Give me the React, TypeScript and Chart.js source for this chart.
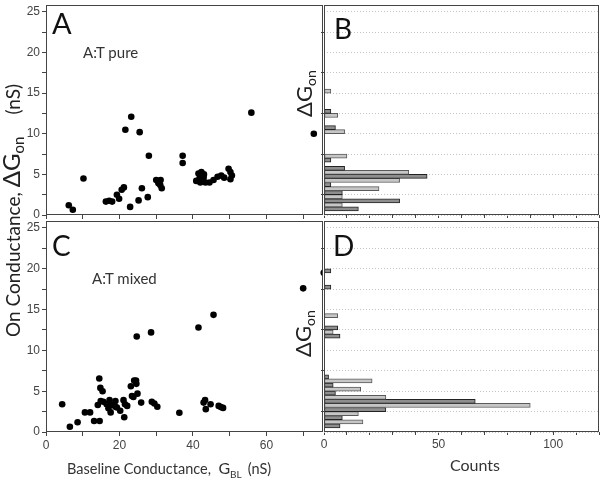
import React, { useEffect, useRef } from 'react';
import { Chart, registerables } from 'chart.js';

Chart.register(...registerables);

// ---------- data ----------
// Panel A: A:T pure  (baseline conductance G_BL, on conductance ΔG_on)
const pureBaseline = [6.2, 7.3, 10.2, 16.3, 17.2, 18.0, 19.3, 19.9, 20.6, 21.2, 21.6, 22.9, 23.2, 25.2, 25.5, 26.1, 27.7, 28.0, 30.0, 30.6, 31.1, 31.2, 31.5, 37.2, 37.2, 40.9, 41.5, 41.8, 42.0, 42.3, 42.6, 42.9, 43.0, 43.4, 44.5, 45.6, 46.7, 47.7, 48.5, 49.7, 50.2, 50.2, 50.6, 55.9, 72.9];
const pureOn = [1.2, 0.65, 4.5, 1.65, 1.75, 1.65, 2.5, 2.0, 3.1, 3.4, 10.5, 1.0, 12.1, 1.8, 10.2, 3.3, 2.2, 7.3, 4.3, 3.9, 3.7, 4.3, 3.3, 7.3, 6.4, 4.2, 5.1, 4.5, 4.0, 5.3, 4.9, 4.6, 5.0, 4.0, 4.0, 4.3, 4.7, 4.85, 4.6, 5.7, 5.3, 4.4, 4.85, 12.6, 10.0];

// Panel C: A:T mixed
const mixedBaseline = [4.4, 6.5, 8.6, 10.6, 12.0, 13.1, 14.6, 14.5, 14.8, 15.4, 14.1, 14.9, 15.6, 16.5, 17.0, 17.6, 17.3, 18.0, 18.9, 18.9, 19.3, 20.2, 21.1, 21.3, 21.5, 22.1, 23.1, 23.4, 24.0, 24.5, 24.6, 24.9, 23.8, 24.7, 25.9, 28.6, 28.8, 29.5, 30.3, 36.3, 41.5, 42.9, 43.3, 43.5, 44.8, 45.6, 47.0, 47.6, 48.2, 70.0, 75.6];
const mixedOn = [3.4, 0.65, 1.2, 2.4, 2.4, 1.35, 1.35, 6.55, 5.4, 5.0, 3.3, 3.8, 3.7, 3.4, 2.9, 2.4, 3.9, 3.3, 3.8, 3.1, 3.0, 2.6, 3.9, 1.8, 3.4, 3.2, 5.6, 4.4, 6.3, 6.3, 5.9, 4.7, 4.3, 11.7, 3.6, 12.2, 3.7, 3.5, 3.1, 2.35, 12.8, 3.6, 3.9, 2.8, 3.4, 14.35, 3.2, 3.05, 2.95, 17.6, 19.5];

// Panel B: histogram of ΔG_on, A:T pure
const pureBins = [0.75, 1.25, 1.75, 2.25, 2.75, 3.25, 3.75, 4.25, 4.75, 5.25, 5.75, 6.75, 7.25, 10.25, 10.75, 12.25, 12.75, 15.25];
const pureCounts = [15, 8, 33, 8, 8, 24, 3, 33, 45, 37, 9, 3, 10, 9, 5, 6, 3, 3];

// Panel D: histogram of ΔG_on, A:T mixed
const mixedBins = [0.75, 1.25, 1.75, 2.25, 2.75, 3.25, 3.75, 4.25, 4.75, 5.25, 5.75, 6.25, 6.75, 11.75, 12.25, 12.75, 14.25, 17.75, 19.75];
const mixedCounts = [7, 17, 8, 15, 27, 90, 66, 27, 5, 16, 4, 21, 2, 7, 4, 6, 6, 3, 3];

// tick labels
const onTickLabels = [0, 5, 10, 15, 20, 25];
const baselineTickLabels = [0, 20, 40, 60];
const countTickLabels = [0, 50, 100];

// ---------- helpers ----------
const W = 604;
const H = 485;
const TICK_FONT = { family: "'Liberation Sans', Arial, sans-serif", size: 12 };
const TICK_COLOR = '#444';
const FRAME = '#444';
const LABEL_FONT = "Lato, 'Open Sans', 'DejaVu Sans', sans-serif";

function fixAxis(size: number, horizontal: boolean) {
  return (scale: any) => {
    if (horizontal) scale.height = size;
    else scale.width = size;
    scale.paddingTop = 0;
    scale.paddingBottom = 0;
    scale.paddingLeft = 0;
    scale.paddingRight = 0;
  };
}

const framePlugin = {
  id: 'frame',
  afterDraw(chart: any) {
    const { ctx, chartArea: a } = chart;
    ctx.save();
    ctx.strokeStyle = FRAME;
    ctx.lineWidth = 1;
    ctx.setLineDash([]);
    const l = Math.round(a.left) + 0.5;
    const t = Math.round(a.top) + 0.5;
    const r = Math.round(a.right) - 0.5;
    const b = Math.round(a.bottom) - 0.5;
    ctx.strokeRect(l, t, r - l, b - t);
    ctx.restore();
  },
};

type Part = { text: string; size: number; dy?: number; gap?: number };

// draws text rotated by -90deg, reading bottom-to-top, baseline at x = baseX, starting at y = startY
function drawRotated(ctx: CanvasRenderingContext2D, baseX: number, startY: number, parts: Part[]) {
  ctx.save();
  ctx.translate(baseX, startY);
  ctx.rotate(-Math.PI / 2);
  ctx.fillStyle = '#222';
  ctx.textBaseline = 'alphabetic';
  ctx.textAlign = 'left';
  let x = 0;
  for (const p of parts) {
    x += p.gap || 0;
    ctx.font = `${p.size}px ${LABEL_FONT}`;
    ctx.fillText(p.text, x, p.dy || 0);
    x += ctx.measureText(p.text).width;
  }
  ctx.restore();
}

const rotatedLabelsPlugin = {
  id: 'rotatedLabels',
  afterDraw(chart: any) {
    const ctx = chart.ctx as CanvasRenderingContext2D;
    drawRotated(ctx, 20, 337, [
      { text: 'On Conductance,', size: 19 },
      { text: 'ΔG', size: 24, gap: 5 },
      { text: 'on', size: 15, dy: 4 },
      { text: '(nS)', size: 19, gap: 22 },
    ]);
    const dg: Part[] = [
      { text: 'ΔG', size: 22 },
      { text: 'on', size: 14, dy: 4 },
    ];
    drawRotated(ctx, 312, 117, dg);
    drawRotated(ctx, 311, 357, dg);
  },
};

const labelIf = (list: number[]) => (v: any) => (list.some((x) => Math.abs(x - Number(v)) < 1e-6) ? String(v) : '');

function scatterConfig(xs: number[], ys: number[], top: number, bottom: number, showX: boolean, clip: any, extra: any[]) {
  const xAxisH = 24;
  return {
    type: 'scatter' as const,
    data: {
      datasets: [
        {
          data: xs.map((x, i) => ({ x, y: ys[i] })),
          backgroundColor: '#000',
          borderWidth: 0,
          pointRadius: 3.3,
          clip,
        },
      ],
    },
    options: {
      responsive: false,
      animation: false as const,
      events: [],
      layout: { padding: { left: 0, top, right: W - 323, bottom: H - bottom - xAxisH } },
      plugins: { legend: { display: false }, tooltip: { enabled: false } },
      scales: {
        x: {
          type: 'linear' as const,
          min: 0,
          max: 75.4,
          afterFit: fixAxis(xAxisH, true),
          ticks: {
            stepSize: 10,
            includeBounds: false,
            autoSkip: false,
            maxRotation: 0,
            padding: 2,
            font: TICK_FONT,
            color: TICK_COLOR,
            callback: showX ? labelIf(baselineTickLabels) : () => '',
          },
          grid: { drawOnChartArea: false, drawTicks: true, tickLength: 4, tickColor: TICK_COLOR, color: TICK_COLOR },
          border: { display: false },
        },
        y: {
          type: 'linear' as const,
          min: 0,
          max: 25.85,
          afterFit: fixAxis(46, false),
          ticks: {
            stepSize: 2.5,
            includeBounds: false,
            autoSkip: false,
            padding: 2,
            font: TICK_FONT,
            color: TICK_COLOR,
            callback: labelIf(onTickLabels),
          },
          grid: { drawOnChartArea: false, drawTicks: true, tickLength: 4, tickColor: TICK_COLOR, color: TICK_COLOR },
          border: { display: false },
        },
      },
    },
    plugins: [framePlugin, ...extra],
  };
}

function histConfig(bins: number[], counts: number[], top: number, bottom: number, showX: boolean) {
  const xAxisH = 24;
  const isDark = (ctx: any) => {
    const c = bins[ctx.dataIndex];
    return Math.round(c * 4) % 4 === 3;
  };
  return {
    type: 'bar' as const,
    data: {
      datasets: [
        {
          data: bins.map((b, i) => ({ x: counts[i], y: b })),
          backgroundColor: (ctx: any) => (isDark(ctx) ? '#8e8e8e' : '#c6c6c6'),
          borderColor: (ctx: any) => (isDark(ctx) ? '#222' : '#5a5a5a'),
          borderWidth: 1,
          borderSkipped: false,
          barPercentage: 1,
          categoryPercentage: 1,
        },
      ],
    },
    options: {
      responsive: false,
      animation: false as const,
      events: [],
      indexAxis: 'y' as const,
      layout: { padding: { left: 300, top, right: W - 599, bottom: H - bottom - xAxisH } },
      plugins: { legend: { display: false }, tooltip: { enabled: false } },
      scales: {
        x: {
          type: 'linear' as const,
          min: 0,
          max: 120,
          afterFit: fixAxis(xAxisH, true),
          ticks: {
            stepSize: 10,
            includeBounds: false,
            autoSkip: false,
            maxRotation: 0,
            padding: 2,
            font: TICK_FONT,
            color: TICK_COLOR,
            callback: showX ? labelIf(countTickLabels) : () => '',
          },
          grid: { drawOnChartArea: false, drawTicks: true, tickLength: 3, tickColor: TICK_COLOR, color: TICK_COLOR },
          border: { display: false },
        },
        y: {
          type: 'linear' as const,
          min: 0,
          max: 25.85,
          offset: false,
          afterFit: fixAxis(24, false),
          ticks: {
            stepSize: 2.5,
            includeBounds: false,
            autoSkip: false,
            callback: () => '',
          },
          grid: {
            offset: false,
            drawOnChartArea: true,
            drawTicks: true,
            tickLength: 3,
            color: '#c4c4c4',
            tickColor: (ctx: any) => {
              const v = ctx.tick ? ctx.tick.value : 0;
              return Math.abs((v % 5) - 2.5) < 1e-6 ? TICK_COLOR : 'rgba(0,0,0,0)';
            },
          },
          border: { display: false, dash: [1, 2] },
        },
      },
    },
    plugins: [framePlugin],
  };
}

function Txt(props: { left: number; top: number; size: number; children: any; color?: string }) {
  return (
    <div
      style={{
        position: 'absolute',
        left: props.left,
        top: props.top,
        fontFamily: LABEL_FONT,
        fontSize: props.size,
        lineHeight: 1,
        whiteSpace: 'nowrap',
        color: props.color || '#222',
      }}
    >
      {props.children}
    </div>
  );
}

export default function App() {
  const refA = useRef<HTMLCanvasElement>(null);
  const refB = useRef<HTMLCanvasElement>(null);
  const refC = useRef<HTMLCanvasElement>(null);
  const refD = useRef<HTMLCanvasElement>(null);

  useEffect(() => {
    const charts: Chart[] = [];
    charts.push(new Chart(refA.current as HTMLCanvasElement, scatterConfig(pureBaseline, pureOn, 5, 215, false, undefined, [rotatedLabelsPlugin]) as any));
    charts.push(new Chart(refC.current as HTMLCanvasElement, scatterConfig(mixedBaseline, mixedOn, 221, 432, true, 0, []) as any));
    charts.push(new Chart(refB.current as HTMLCanvasElement, histConfig(pureBins, pureCounts, 5, 215, false) as any));
    charts.push(new Chart(refD.current as HTMLCanvasElement, histConfig(mixedBins, mixedCounts, 221, 432, true) as any));
    return () => charts.forEach((c) => c.destroy());
  }, []);

  const cv = { position: 'absolute' as const, left: 0, top: 0, width: W, height: H };

  return (
    <div style={{ position: 'absolute', left: 0, top: 0, width: W, height: H, background: '#fff', overflow: 'hidden' }}>
      <canvas ref={refA} width={W} height={H} style={cv} />
      <canvas ref={refC} width={W} height={H} style={cv} />
      <canvas ref={refB} width={W} height={H} style={cv} />
      <canvas ref={refD} width={W} height={H} style={cv} />

      <Txt left={52} top={8} size={29} color="#111">A</Txt>
      <Txt left={334} top={14} size={28} color="#111">B</Txt>
      <Txt left={52} top={231} size={28} color="#111">C</Txt>
      <Txt left={333} top={231} size={28} color="#111">D</Txt>

      <Txt left={83} top={44.5} size={15} color="#333">A:T pure</Txt>
      <Txt left={92} top={270.5} size={15} color="#333">A:T mixed</Txt>

      <Txt left={67} top={460} size={14.5} color="#333">
        Baseline Conductance,&nbsp; <span style={{ fontSize: 16 }}>G</span>
        <span style={{ fontSize: 10, position: 'relative', top: 4 }}>BL</span>
        <span style={{ marginLeft: 6 }}>(nS)</span>
      </Txt>
      <Txt left={450} top={457} size={16} color="#333">Counts</Txt>
    </div>
  );
}
